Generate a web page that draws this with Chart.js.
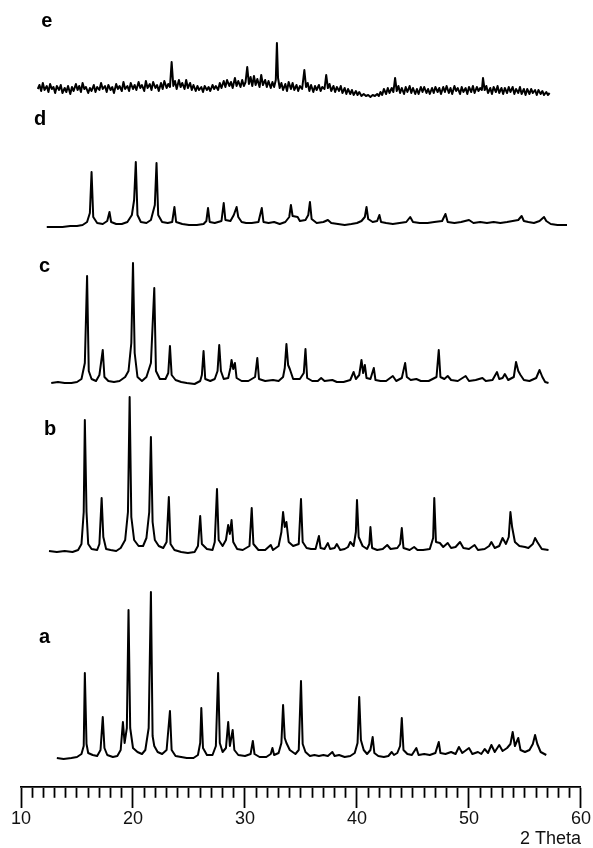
<!DOCTYPE html>
<html>
<head>
<meta charset="utf-8">
<script src="https://cdn.jsdelivr.net/npm/chart.js@4.4.1/dist/chart.umd.min.js"></script>
<style>
  html, body { margin: 0; padding: 0; background: #fff; }
  #wrap { width: 593px; height: 848px; position: relative; }
</style>
</head>
<body>
<div id="wrap"><canvas id="xrd"></canvas></div>
<script>
// 2 Theta / intensity pairs (intensity above each trace's own baseline)
const traceA = [
  [13.2, 0], [13.8, -1], [14.5, 0], [15.0, 1], [15.4, 4], [15.6, 12], [15.7, 85], [15.85, 14], [16.0, 5], [16.4, 3],
  [16.8, 2], [17.1, 8], [17.3, 41], [17.45, 10], [17.7, 3], [18.2, 1], [18.6, 2], [18.9, 8], [19.1, 36], [19.25, 15],
  [19.45, 30], [19.6, 148], [19.75, 30], [20.0, 10], [20.4, 6], [20.8, 4], [21.1, 8], [21.4, 30], [21.6, 166], [21.75, 22],
  [21.9, 12], [22.2, 6], [22.6, 4], [23.0, 8], [23.3, 47], [23.45, 8], [23.8, 2], [24.3, 1], [24.8, 0], [25.4, 0],
  [25.8, 3], [26.0, 15], [26.1, 50], [26.25, 10], [26.6, 3], [27.1, 3], [27.4, 12], [27.6, 85], [27.75, 15], [28.0, 6],
  [28.3, 10], [28.5, 36], [28.65, 12], [28.9, 28], [29.05, 8], [29.4, 3], [30.0, 2], [30.5, 4], [30.7, 17], [30.85, 4],
  [31.3, 1], [31.9, 1], [32.3, 4], [32.45, 10], [32.6, 3], [33.0, 5], [33.25, 15], [33.4, 53], [33.55, 20], [33.7, 15],
  [34.0, 8], [34.5, 4], [34.8, 8], [35.0, 77], [35.15, 14], [35.4, 6], [35.8, 2], [36.2, 3], [36.6, 2], [37.0, 3],
  [37.4, 2], [37.8, 6], [38.0, 2], [38.4, 3], [38.9, 1], [39.4, 2], [39.8, 5], [40.05, 15], [40.2, 61], [40.35, 18],
  [40.6, 8], [40.9, 4], [41.2, 8], [41.4, 21], [41.55, 5], [41.9, 2], [42.4, 1], [42.8, 2], [43.1, 6], [43.3, 3],
  [43.6, 5], [43.85, 12], [44.0, 40], [44.15, 8], [44.5, 4], [44.9, 3], [45.3, 10], [45.5, 3], [46.0, 4], [46.5, 3],
  [47.0, 5], [47.3, 16], [47.45, 5], [47.9, 4], [48.4, 6], [48.8, 4], [49.1, 11], [49.4, 5], [50.0, 10], [50.3, 4],
  [50.8, 6], [51.1, 4], [51.4, 9], [51.7, 5], [52.0, 13], [52.3, 6], [52.7, 13], [53.0, 7], [53.4, 10], [53.7, 14],
  [53.9, 26], [54.1, 12], [54.4, 20], [54.6, 8], [55.0, 6], [55.4, 8], [55.7, 14], [55.9, 23], [56.1, 14], [56.4, 6],
  [56.9, 3]
];

const traceB = [
  [12.5, 1], [13.2, 0], [13.9, 1], [14.6, 0], [15.1, 2], [15.4, 8], [15.6, 40], [15.7, 132], [15.85, 40], [16.0, 8],
  [16.3, 3], [16.8, 2], [17.0, 8], [17.2, 54], [17.35, 15], [17.6, 3], [18.0, 2], [18.5, 1], [18.9, 4], [19.3, 12],
  [19.55, 40], [19.7, 155], [19.85, 35], [20.1, 12], [20.5, 6], [20.9, 6], [21.2, 14], [21.45, 40], [21.6, 115], [21.75, 30],
  [21.95, 12], [22.3, 6], [22.7, 4], [23.0, 10], [23.2, 55], [23.35, 8], [23.7, 2], [24.3, 0], [24.9, -1], [25.5, 0],
  [25.8, 6], [26.0, 36], [26.15, 8], [26.6, 3], [27.1, 2], [27.3, 10], [27.5, 63], [27.65, 12], [28.0, 6], [28.3, 12],
  [28.5, 27], [28.65, 18], [28.8, 32], [28.95, 10], [29.3, 3], [29.8, 2], [30.4, 6], [30.6, 44], [30.75, 8], [31.2, 2],
  [31.8, 2], [32.3, 7], [32.5, 2], [33.0, 6], [33.25, 20], [33.4, 40], [33.55, 25], [33.7, 30], [33.9, 10], [34.3, 6],
  [34.8, 8], [35.0, 53], [35.15, 10], [35.5, 4], [35.9, 3], [36.3, 3], [36.6, 16], [36.75, 4], [37.1, 3], [37.4, 9],
  [37.6, 3], [38.0, 4], [38.2, 8], [38.5, 2], [38.9, 3], [39.2, 5], [39.4, 10], [39.7, 6], [39.9, 20], [40.0, 52],
  [40.15, 15], [40.5, 6], [40.9, 3], [41.1, 8], [41.2, 25], [41.35, 4], [41.8, 2], [42.3, 3], [42.7, 7], [43.0, 3],
  [43.6, 4], [43.85, 8], [44.0, 24], [44.15, 4], [44.7, 2], [45.1, 5], [45.4, 2], [45.9, 2], [46.5, 3], [46.8, 14],
  [46.9, 54], [47.05, 10], [47.4, 9], [47.7, 5], [48.1, 9], [48.4, 4], [48.8, 5], [49.2, 10], [49.5, 4], [50.0, 3],
  [50.5, 7], [50.8, 2], [51.4, 3], [51.8, 6], [52.0, 10], [52.3, 4], [52.7, 6], [53.0, 14], [53.3, 8], [53.55, 15],
  [53.7, 40], [53.85, 25], [54.1, 10], [54.5, 6], [55.0, 5], [55.3, 4], [55.7, 8], [55.9, 14], [56.1, 10], [56.5, 3],
  [57.1, 2]
];

const traceC = [
  [12.7, 0], [13.3, 1], [13.9, 0], [14.5, 0], [15.0, 1], [15.4, 4], [15.7, 20], [15.9, 107], [16.05, 12], [16.3, 4],
  [16.7, 2], [17.0, 8], [17.3, 33], [17.45, 6], [17.8, 2], [18.3, 1], [18.8, 2], [19.3, 6], [19.6, 12], [19.85, 40],
  [20.0, 120], [20.15, 30], [20.4, 6], [20.8, 2], [21.2, 6], [21.6, 20], [21.9, 95], [22.05, 12], [22.4, 4], [22.9, 4],
  [23.15, 10], [23.3, 37], [23.45, 8], [23.8, 3], [24.3, 1], [24.8, 0], [25.5, -1], [26.0, 2], [26.15, 8], [26.3, 32],
  [26.45, 4], [26.9, 2], [27.3, 4], [27.55, 12], [27.7, 38], [27.85, 12], [28.1, 4], [28.5, 5], [28.7, 15], [28.8, 23],
  [28.95, 14], [29.1, 20], [29.25, 5], [29.7, 2], [30.3, 2], [30.9, 6], [31.1, 25], [31.25, 4], [31.8, 2], [32.5, 3],
  [33.0, 2], [33.4, 6], [33.55, 15], [33.7, 39], [33.85, 18], [34.0, 14], [34.3, 4], [34.9, 4], [35.25, 10], [35.4, 34],
  [35.55, 5], [36.0, 2], [36.5, 2], [36.8, 5], [37.1, 2], [37.8, 3], [38.2, 1], [38.8, 1], [39.4, 3], [39.7, 11],
  [39.9, 4], [40.2, 8], [40.4, 23], [40.55, 10], [40.7, 18], [40.85, 5], [41.2, 4], [41.5, 15], [41.65, 3], [42.1, 2],
  [42.6, 2], [43.2, 7], [43.5, 2], [44.0, 5], [44.3, 20], [44.45, 6], [44.8, 3], [45.3, 4], [45.7, 2], [46.4, 2],
  [47.1, 6], [47.3, 33], [47.45, 6], [47.8, 4], [48.1, 7], [48.4, 3], [49.0, 2], [49.7, 7], [50.0, 2], [50.6, 3],
  [51.2, 5], [51.5, 2], [52.1, 3], [52.5, 11], [52.7, 4], [53.0, 5], [53.2, 9], [53.5, 3], [54.0, 6], [54.2, 21],
  [54.4, 12], [54.6, 8], [54.9, 3], [55.4, 2], [56.0, 5], [56.3, 13], [56.55, 6], [56.8, 1], [57.1, 0]
];

const traceD = [
  [12.3, -2], [13.0, -2], [13.7, -2], [14.4, -1], [15.0, -1], [15.5, 0], [15.9, 3], [16.15, 12], [16.3, 53], [16.45, 8],
  [16.8, 2], [17.3, 1], [17.7, 4], [17.9, 13], [18.05, 3], [18.5, 1], [19.0, 1], [19.5, 3], [19.9, 10], [20.1, 25],
  [20.25, 63], [20.4, 10], [20.7, 3], [21.2, 2], [21.6, 5], [21.95, 20], [22.1, 62], [22.25, 10], [22.6, 3], [23.1, 2],
  [23.5, 3], [23.7, 18], [23.85, 3], [24.4, 1], [25.0, 0], [25.7, 0], [26.3, 1], [26.55, 4], [26.7, 17], [26.85, 3],
  [27.3, 2], [27.9, 4], [28.1, 22], [28.25, 5], [28.7, 4], [29.0, 10], [29.25, 18], [29.4, 8], [29.7, 3], [30.1, 2],
  [30.6, 2], [31.2, 3], [31.5, 17], [31.65, 3], [32.1, 2], [32.6, 3], [33.1, 1], [33.6, 3], [33.95, 8], [34.1, 20],
  [34.25, 9], [34.7, 8], [34.9, 4], [35.4, 5], [35.65, 10], [35.8, 23], [35.95, 6], [36.4, 2], [37.0, 3], [37.4, 5],
  [37.7, 2], [38.3, 1], [38.9, 0], [39.5, 1], [40.0, 2], [40.4, 4], [40.7, 8], [40.85, 18], [41.0, 6], [41.4, 3],
  [41.8, 4], [42.0, 10], [42.15, 3], [42.6, 2], [43.2, 1], [43.8, 2], [44.4, 3], [44.75, 8], [45.0, 3], [45.6, 2],
  [46.3, 2], [46.9, 3], [47.6, 4], [47.9, 11], [48.1, 3], [48.7, 2], [49.3, 3], [50.0, 5], [50.4, 2], [51.0, 3],
  [51.6, 2], [52.2, 3], [52.8, 2], [53.4, 3], [53.9, 4], [54.4, 5], [54.7, 9], [54.9, 4], [55.3, 3], [55.8, 2],
  [56.3, 4], [56.7, 8], [56.9, 4], [57.3, 1], [57.9, 0], [58.75, 0]
];

const traceE = [
  [11.5, 3], [11.65, 7], [11.8, 1], [11.95, 9], [12.1, 2], [12.3, 6], [12.45, 0], [12.6, 8], [12.75, 3], [12.9, 5],
  [13.05, -1], [13.2, 6], [13.4, 2], [13.55, 7], [13.7, -1], [13.9, 4], [14.05, 0], [14.2, 6], [14.4, -2], [14.55, 5],
  [14.7, 1], [14.9, 8], [15.05, 2], [15.2, 6], [15.35, 0], [15.5, 9], [15.65, 3], [15.8, 5], [16.0, -1], [16.15, 4],
  [16.3, 1], [16.5, 7], [16.65, 0], [16.8, 5], [17.0, 2], [17.15, 9], [17.3, 3], [17.5, 6], [17.65, 0], [17.8, 7],
  [18.0, 2], [18.15, 5], [18.3, -1], [18.5, 8], [18.65, 3], [18.8, 6], [19.0, 1], [19.15, 10], [19.3, 3], [19.5, 6],
  [19.65, 1], [19.8, 9], [20.0, 3], [20.15, 7], [20.3, 2], [20.5, 10], [20.65, 4], [20.8, 7], [21.0, 1], [21.15, 11],
  [21.3, 4], [21.5, 8], [21.65, 2], [21.8, 10], [22.0, 4], [22.15, 7], [22.3, 1], [22.5, 9], [22.65, 3], [22.8, 11],
  [23.0, 4], [23.15, 8], [23.3, 5], [23.45, 30], [23.6, 6], [23.75, 11], [23.9, 3], [24.1, 12], [24.25, 5], [24.4, 9],
  [24.6, 3], [24.75, 12], [24.9, 4], [25.1, 9], [25.25, 2], [25.4, 7], [25.6, 1], [25.75, 6], [25.9, 2], [26.1, 5],
  [26.25, 0], [26.4, 6], [26.6, 2], [26.75, 5], [26.9, 1], [27.1, 7], [27.25, 3], [27.4, 6], [27.6, 2], [27.75, 9],
  [27.9, 4], [28.1, 11], [28.25, 5], [28.4, 12], [28.6, 6], [28.75, 10], [28.9, 4], [29.1, 14], [29.25, 6], [29.4, 11],
  [29.6, 5], [29.75, 12], [29.9, 6], [30.05, 10], [30.2, 25], [30.35, 8], [30.5, 15], [30.65, 6], [30.8, 16], [30.95, 7],
  [31.1, 13], [31.3, 5], [31.45, 17], [31.6, 7], [31.8, 12], [31.95, 5], [32.1, 11], [32.3, 4], [32.45, 10], [32.6, 5],
  [32.75, 12], [32.85, 49], [32.95, 14], [33.1, 4], [33.25, 9], [33.4, 2], [33.6, 8], [33.75, 1], [33.9, 10], [34.1, 3],
  [34.25, 9], [34.4, 2], [34.6, 7], [34.75, 1], [34.9, 6], [35.1, 3], [35.3, 22], [35.45, 5], [35.6, 9], [35.75, 1],
  [35.9, 7], [36.1, 0], [36.25, 6], [36.4, 2], [36.6, 7], [36.75, 1], [36.9, 5], [37.1, 3], [37.25, 17], [37.4, 4],
  [37.55, 8], [37.7, 1], [37.9, 6], [38.05, 0], [38.2, 5], [38.4, 1], [38.55, 6], [38.7, -1], [38.9, 4], [39.05, -2],
  [39.2, 3], [39.4, -2], [39.55, 2], [39.7, -3], [39.9, 1], [40.05, -3], [40.2, 0], [40.4, -4], [40.6, -2], [40.8, -4],
  [41.0, -3], [41.2, -5], [41.4, -3], [41.6, -4], [41.8, -2], [41.95, -4], [42.1, 0], [42.25, -3], [42.4, 3], [42.6, -2],
  [42.75, 4], [42.9, -1], [43.1, 4], [43.25, 0], [43.4, 14], [43.55, 1], [43.7, 6], [43.85, -1], [44.0, 4], [44.2, -2],
  [44.35, 5], [44.5, 0], [44.7, 6], [44.85, -1], [45.0, 4], [45.2, -2], [45.35, 3], [45.5, -2], [45.7, 5], [45.85, 0],
  [46.0, 5], [46.2, -1], [46.35, 3], [46.5, -2], [46.7, 4], [46.85, -1], [47.0, 5], [47.2, 0], [47.35, 4], [47.5, -2],
  [47.7, 5], [47.85, 0], [48.0, 6], [48.2, -1], [48.35, 4], [48.5, -2], [48.7, 6], [48.85, 1], [49.0, 4], [49.2, -2],
  [49.35, 5], [49.5, 0], [49.7, 4], [49.85, -2], [50.0, 5], [50.2, 0], [50.35, 6], [50.5, -1], [50.7, 5], [50.85, 1],
  [51.0, 4], [51.15, 2], [51.25, 14], [51.4, 2], [51.55, 6], [51.7, -1], [51.9, 4], [52.05, -2], [52.2, 5], [52.4, 0],
  [52.55, 6], [52.7, -1], [52.9, 4], [53.05, -2], [53.2, 4], [53.4, -1], [53.55, 5], [53.7, 0], [53.9, 5], [54.05, -2],
  [54.2, 3], [54.4, -1], [54.55, 5], [54.7, -2], [54.9, 3], [55.05, -3], [55.2, 3], [55.4, -2], [55.55, 3], [55.7, -1],
  [55.9, 2], [56.05, -3], [56.2, 2], [56.4, -2], [56.55, 1], [56.7, -3], [56.9, 0], [57.05, -3], [57.2, -1]
];

const sampleNames = ['a', 'b', 'c', 'd', 'e'];
const xTicks = [10, 20, 30, 40, 50, 60];

// vertical stacking of the traces (baseline of each trace in intensity units)
const offsets = { a: 29, b: 235, c: 404, d: 562, e: 695 };
const traces = { a: traceA, b: traceB, c: traceC, d: traceD, e: traceE };

// where each trace letter sits (2 Theta, intensity)
const letterPos = { e: [12.3, 760], d: [11.7, 662], c: [12.1, 515], b: [12.6, 352], a: [12.1, 144] };

const letters = {
  id: 'letters',
  afterDraw(chart) {
    const { ctx, scales } = chart;
    ctx.save();
    ctx.fillStyle = '#000';
    ctx.font = 'bold 20px "Liberation Sans", Arial, sans-serif';
    ctx.textAlign = 'center';
    ctx.textBaseline = 'alphabetic';
    sampleNames.forEach(n => {
      const [t, v] = letterPos[n];
      ctx.fillText(n, scales.x.getPixelForValue(t), scales.y.getPixelForValue(v));
    });
    ctx.restore();
  }
};

const datasets = sampleNames.map(n => ({
  label: n,
  data: traces[n].map(([t, v]) => ({ x: t, y: v + offsets[n] })),
  borderColor: '#000',
  borderWidth: 2,
  borderJoinStyle: 'round',
  pointRadius: 0,
  tension: 0,
  fill: false
}));

new Chart(document.getElementById('xrd'), {
  type: 'line',
  data: { datasets },
  options: {
    responsive: true,
    maintainAspectRatio: false,
    animation: false,
    layout: { padding: { left: 21, right: 11, top: 0, bottom: 0 } },
    plugins: { legend: { display: false }, tooltip: { enabled: false } },
    scales: {
      x: {
        type: 'linear',
        min: 10,
        max: 60,
        border: { display: true, color: '#000', width: 1.8 },
        grid: {
          drawOnChartArea: false,
          drawTicks: true,
          tickLength: 21,
          tickWidth: 1.8,
          tickColor: '#000',
          // minor ticks are short: dash pattern cuts them after 10px
          tickBorderDash: ctx => (xTicks.includes(ctx.tick.value) ? [] : [10, 40])
        },
        ticks: {
          stepSize: 1,
          autoSkip: false,
          maxRotation: 0,
          padding: 2,
          color: '#111',
          font: { family: '"Liberation Sans", Arial, sans-serif', size: 18, lineHeight: 1 },
          callback: v => (xTicks.includes(v) ? String(v) : '')
        },
        title: {
          display: true,
          text: '2 Theta',
          align: 'end',
          color: '#111',
          padding: { top: 0, bottom: 0 },
          font: { family: '"Liberation Sans", Arial, sans-serif', size: 18, lineHeight: 1 }
        }
      },
      y: {
        display: false,
        min: 0,
        max: 787
      }
    }
  },
  plugins: [letters]
});
</script>
</body>
</html>
